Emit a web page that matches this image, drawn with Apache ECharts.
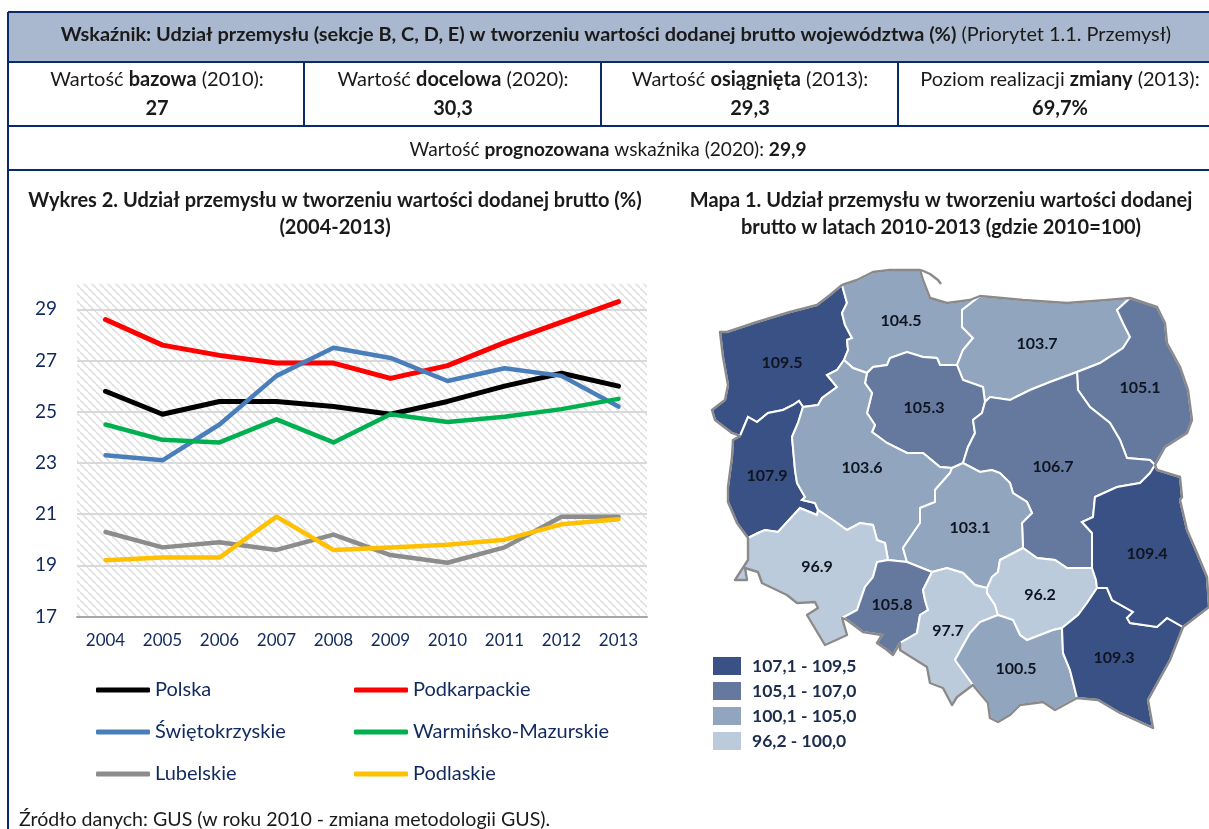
<!DOCTYPE html>
<html><head><meta charset="utf-8">
<style>html,body{margin:0;padding:0;background:#fff}#c{width:1209px;height:829px}</style>
<script src="https://cdn.jsdelivr.net/npm/echarts@6/dist/echarts.min.js"></script>
</head><body><div id="c"></div>
<script>
// ---------- line chart data ----------
const years = ['2004','2005','2006','2007','2008','2009','2010','2011','2012','2013'];
const polska = [25.8,24.9,25.4,25.4,25.2,24.9,25.4,26.0,26.5,26.0];
const podkarpackie = [28.6,27.6,27.2,26.9,26.9,26.3,26.8,27.7,28.5,29.3];
const swietokrzyskie = [23.3,23.1,24.5,26.4,27.5,27.1,26.2,26.7,26.4,25.2];
const warminsko = [24.5,23.9,23.8,24.7,23.8,24.9,24.6,24.8,25.1,25.5];
const lubelskie = [20.3,19.7,19.9,19.6,20.2,19.4,19.1,19.7,20.9,20.9];
const podlaskie = [19.2,19.3,19.3,20.9,19.6,19.7,19.8,20.0,20.6,20.8];

// ---------- map values ----------
const regionNames = ['zach','pom','warm','podl','kuj','maz','lub','wlkp','lodz','doln','opol','slask','swk','mal','podk','lubel'];
const regionValues = [109.5,104.5,103.7,105.1,105.3,106.7,107.9,103.6,103.1,96.9,105.8,97.7,96.2,100.5,109.3,109.4];
const legendLabels = ['107,1 - 109,5','105,1 - 107,0','100,1 - 105,0','96,2 - 100,0'];

// ---------- map geometry (schematic outline of the voivodeships) ----------
const coastZach=[[842,285],[830,295],[817,305],[790,312],[757,322],[727,332],[720,332],[723,357],[728,385],[725,400],[712,410],[715,420],[732,433],[740,436]];
const zachPom=[[842,285],[847,303],[842,313],[845,325],[852,338],[847,340],[848,350],[844,360]];
const zachWlkp=[[844,360],[837,370],[827,375],[837,387],[822,398],[818,405],[803,407]];
const zachLub=[[803,407],[799,401],[793,405],[783,410],[768,413],[757,422],[748,417],[740,436]];
const coastPom=[[842,285],[857,280],[873,272],[890,270],[920,270],[923,280],[930,298],[947,303],[970,300],[980,296]];
const pomWlkp=[[844,360],[853,368],[867,373]];
const pomKuj=[[867,373],[873,367],[887,365],[890,358],[907,352],[923,357],[937,358],[940,365],[957,365]];
const pomWarm=[[957,365],[963,350],[973,338],[962,327],[962,310],[980,296]];
const coastWarm=[[980,296],[1023,300],[1067,303],[1107,300],[1130,298]];
const warmKuj=[[957,365],[963,380],[983,387],[985,402]];
const warmMaz=[[985,402],[990,397],[1010,400],[1030,390],[1050,382],[1077,372]];
const warmPodl=[[1077,372],[1100,363],[1123,348],[1130,337],[1123,323],[1117,310],[1130,298]];
const outerPodl=[[1130,298],[1157,307],[1165,323],[1167,343],[1180,367],[1188,390],[1192,420],[1187,433],[1165,447],[1155,465]];
const podlMaz=[[1077,372],[1078,390],[1090,407],[1110,423],[1120,440],[1127,458],[1150,460],[1155,465]];
const kujWlkp=[[867,373],[865,383],[872,393],[867,413],[875,425],[872,432],[887,443],[907,453],[923,453],[940,467],[952,468]];
const kujLodz=[[952,468],[963,463]];
const kujMaz=[[963,463],[968,447],[975,433],[973,420],[982,413],[985,402]];
const mazLodz=[[963,463],[980,472],[992,470],[1000,473],[1010,483],[1013,493],[1027,502],[1032,513],[1022,523],[1023,548]];
const mazSwk=[[1023,548],[1037,558],[1055,560],[1067,568],[1092,568]];
const mazLub=[[1155,465],[1150,473],[1140,483],[1117,487],[1095,497],[1093,517],[1082,522],[1092,533],[1092,568]];
const wlkpLodz=[[952,468],[950,473],[935,490],[935,502],[920,508],[920,523],[903,548],[907,562]];
const wlkpLub=[[803,407],[798,423],[792,437],[795,470],[797,483],[805,497],[802,500],[815,503],[818,510]];
const wlkpDoln=[[818,510],[833,520],[847,530],[860,523],[873,525],[877,540],[885,543],[888,560]];
const wlkpOpol=[[888,560],[907,562]];
const outerLub=[[740,436],[733,440],[732,457],[728,487],[728,502],[737,523],[748,538]];
const lubDoln=[[818,510],[817,515],[800,508],[778,532],[765,530],[758,533],[748,538]];
const outerDoln=[[748,538],[748,560],[735,580],[747,580],[745,568],[758,572],[762,583],[787,595],[797,603],[815,602],[818,608],[807,615],[825,645],[847,635],[842,618]];
const dolnOpol=[[842,618],[857,610],[865,587],[873,577],[877,562],[888,560]];
const outerOpol=[[842,618],[847,620],[863,632],[882,635],[877,643],[887,650],[893,655],[900,643]];
const opolLodz=[[907,562],[932,572]];
const opolSlask=[[932,572],[923,590],[925,600],[928,610],[920,615],[917,633],[900,643]];
const lodzSlask=[[932,572],[947,568],[963,573],[975,585],[987,588]];
const lodzSwk=[[1023,548],[1000,560],[998,572],[992,577],[987,588]];
const slaskSwk=[[987,588],[987,593],[995,605],[998,615]];
const slaskMal=[[998,615],[980,622],[970,633],[955,660],[973,685]];
const outerSlask=[[900,643],[900,650],[927,667],[930,683],[943,688],[952,705],[957,697],[973,685]];
const malSwk=[[998,615],[1013,620],[1020,635],[1027,640],[1053,630],[1062,628]];
const malPodk=[[1062,628],[1063,653],[1070,670],[1077,698]];
const outerMal=[[973,685],[977,690],[988,703],[990,718],[998,722],[1010,715],[1020,705],[1043,702],[1055,710],[1077,698]];
const swkPodk=[[1062,628],[1078,615],[1087,603],[1097,588]];
const swkLub=[[1097,588],[1096,580],[1092,568]];
const lubPodk=[[1097,588],[1107,588],[1112,600],[1133,612],[1127,618],[1130,623],[1157,627],[1167,618],[1183,627]];
const outerLubel=[[1155,465],[1157,470],[1180,477],[1182,497],[1180,500],[1187,530],[1197,553],[1207,577],[1209,607],[1183,627]];
const outerPodk=[[1077,698],[1098,700],[1120,713],[1153,728],[1148,700],[1170,660],[1183,627]];
const helPeninsula=[[921,270],[930,274],[938,280],[941,284]];

const rev=a=>a.slice().reverse();
const rings={
 zach:[coastZach,rev(zachLub),rev(zachWlkp),rev(zachPom)],
 pom:[coastPom,rev(pomWarm),rev(pomKuj),rev(pomWlkp),rev(zachPom)],
 warm:[coastWarm,rev(warmPodl),rev(warmMaz),rev(warmKuj),pomWarm],
 podl:[outerPodl,rev(podlMaz),warmPodl],
 kuj:[pomKuj,warmKuj,rev(kujMaz),rev(kujLodz),rev(kujWlkp)],
 maz:[warmMaz,podlMaz,mazLub,rev(mazSwk),rev(mazLodz),kujMaz],
 lodz:[kujLodz,mazLodz,lodzSwk,rev(lodzSlask),rev(opolLodz),rev(wlkpLodz)],
 wlkp:[pomWlkp,kujWlkp,wlkpLodz,rev(wlkpOpol),rev(wlkpDoln),rev(wlkpLub),zachWlkp.slice().reverse()],
 lub:[zachLub,outerLub,rev(lubDoln),rev(wlkpLub)],
 doln:[lubDoln,outerDoln,dolnOpol,rev(wlkpDoln)],
 opol:[wlkpOpol,opolLodz,opolSlask,rev(outerOpol),dolnOpol],
 slask:[lodzSlask,slaskSwk,slaskMal,rev(outerSlask),rev(opolSlask)],
 swk:[mazSwk,rev(swkLub),rev(swkPodk),rev(malSwk),rev(slaskSwk),rev(lodzSwk)],
 mal:[malSwk,malPodk,rev(outerMal),rev(slaskMal)],
 podk:[swkPodk,lubPodk,rev(outerPodk),rev(malPodk)],
 lubel:[mazLub,rev(swkLub),lubPodk,rev(outerLubel)]
};
const labelAnchors={zach:[782,363],pom:[901,321],warm:[1037,344],podl:[1140,388],kuj:[924,408],maz:[1053,467],lub:[767,476],wlkp:[862,468],lodz:[970,528],doln:[817,567],opol:[892,605],slask:[948,631],swk:[1040,595],mal:[1016,669],podk:[1114,658],lubel:[1147,554]};
const outlineSegments=[coastPom,coastWarm,outerPodl,outerLubel,rev(outerPodk),rev(outerMal),rev(outerSlask),rev(outerOpol),rev(outerDoln),rev(outerLub),rev(coastZach)];

const flip=p=>[p[0],-p[1]];
const closeRing=segs=>{const r=[].concat(...segs).map(flip);r.push(r[0]);return r;};
const geoJson={type:'FeatureCollection',features:regionNames.map(n=>({type:'Feature',
  properties:{name:n,cp:flip(labelAnchors[n])},
  geometry:{type:'Polygon',coordinates:[closeRing(rings[n])]}}))};
echarts.registerMap('pl',geoJson);
const allPts=[].concat(...Object.values(rings).map(s=>[].concat(...s)));
const minX=Math.min(...allPts.map(p=>p[0])),maxX=Math.max(...allPts.map(p=>p[0]));
const minY=Math.min(...allPts.map(p=>p[1])),maxY=Math.max(...allPts.map(p=>p[1]));
const mapBox={left:minX,top:minY,width:maxX-minX,height:maxY-minY};

// ---------- hatch background ----------
const tile=document.createElement('canvas');tile.width=tile.height=8;
const t=tile.getContext('2d');t.fillStyle='#fff';t.fillRect(0,0,8,8);
t.strokeStyle='#e2e2e2';t.lineWidth=1.8;
[-8,0,8].forEach(o=>{t.beginPath();t.moveTo(o,0);t.lineTo(o+8,8);t.stroke();});

// ---------- styling ----------
const FONT='Lato';
const NAVY='#10295f';
const LINE='#0b2a6b';
const rich=(size,color)=>({r:{fontFamily:FONT,fontSize:size,fontWeight:'normal',fill:color,color},b:{fontFamily:FONT,fontSize:size,fontWeight:'bold',fill:color,color}});
const rt=(x,y,text,size)=>({type:'text',x,y,z:10,style:{text,rich:rich(size||20,'#1a1a1a'),align:'center',verticalAlign:'middle',fontFamily:FONT,fontSize:size||20,fill:'#1a1a1a'}});
const ln=(x1,y1,x2,y2)=>({type:'line',z:9,shape:{x1,y1,x2,y2},style:{stroke:LINE,lineWidth:2}});

const lineSeries=(name,data,color,width)=>({name,type:'line',data,symbol:'none',smooth:false,xAxisIndex:0,yAxisIndex:0,z:3,
  lineStyle:{color,width:width,cap:'round',join:'round'},itemStyle:{color},emphasis:{disabled:true},silent:true});
const legendBase={orient:'vertical',top:680,icon:'roundRect',itemWidth:54,itemHeight:5,itemGap:22,padding:0,selectedMode:false,
  textStyle:{color:NAVY,fontFamily:FONT,fontSize:20,lineHeight:20}};

const chart=echarts.init(document.getElementById('c'),null,{renderer:'canvas'});
chart.setOption({
 animation:false,
 backgroundColor:'#fff',
 title:[
  {text:'Wykres 2. Udział przemysłu w tworzeniu wartości dodanej brutto (%)\n(2004-2013)',left:330,top:182,textAlign:'center',
   textStyle:{fontFamily:FONT,fontSize:20,fontWeight:'bold',color:'#1a1a1a',lineHeight:27}},
  {text:'Mapa 1. Udział przemysłu w tworzeniu wartości dodanej\nbrutto w latach 2010-2013 (gdzie 2010=100)',left:936,top:182,textAlign:'center',
   textStyle:{fontFamily:FONT,fontSize:20,fontWeight:'bold',color:'#1a1a1a',lineHeight:27}}
 ],
 grid:{left:77,top:283.7,width:570,height:332.8,show:true,borderWidth:0,backgroundColor:{image:tile,repeat:'repeat'}},
 xAxis:[
  {type:'category',data:years,boundaryGap:true,
   axisLine:{lineStyle:{color:'#a6a6a6',width:2}},
   axisTick:{alignWithLabel:true,length:5,lineStyle:{color:'#a6a6a6',width:1}},
   axisLabel:{color:NAVY,fontFamily:FONT,fontSize:17,margin:16,interval:0},splitLine:{show:false}},
  {type:'category',data:years,boundaryGap:true,position:'bottom',
   axisLine:{show:false},axisLabel:{show:false},
   axisTick:{inside:true,alignWithLabel:true,length:5,lineStyle:{color:'#a6a6a6',width:1}},splitLine:{show:false}}
 ],
 yAxis:{type:'value',min:17,max:30,interval:2,
   axisLine:{show:false},axisTick:{show:false},
   axisLabel:{color:NAVY,fontFamily:FONT,fontSize:19,margin:20,showMaxLabel:false},
   splitLine:{show:true,showMinLine:false,showMaxLine:false,lineStyle:{color:'#d9d9d9',width:2}}},
 legend:[
  {...legendBase,data:['Polska','Świętokrzyskie','Lubelskie'],left:96},
  {...legendBase,data:['Podkarpackie','Warmińsko-Mazurskie','Podlaskie'],left:354}
 ],
 visualMap:{type:'piecewise',seriesIndex:6,orient:'vertical',left:713,top:657,itemWidth:28,itemHeight:18,itemGap:7,textGap:11,padding:0,
  selectedMode:false,itemSymbol:'rect',align:'left',inverse:false,
  pieces:[
   {gte:107.1,lte:109.5,label:legendLabels[0],color:'#3a5185'},
   {gte:105.1,lt:107.1,label:legendLabels[1],color:'#65799f'},
   {gte:100.1,lt:105.1,label:legendLabels[2],color:'#91a5bf'},
   {gte:96.2,lt:100.1,label:legendLabels[3],color:'#bccbdc'}
  ],
  textStyle:{color:'#1c2c4c',fontFamily:FONT,fontSize:17.5,fontWeight:'bold'}},
 geo:{map:'pl',...mapBox,aspectScale:1,roam:false,silent:true,z:1,
  itemStyle:{areaColor:'transparent',borderWidth:0},label:{show:false},emphasis:{disabled:true}},
 series:[
  lineSeries('Polska',polska,'#000000',5),
  lineSeries('Podkarpackie',podkarpackie,'#ff0000',5),
  lineSeries('Świętokrzyskie',swietokrzyskie,'#4a7ebb',4.5),
  lineSeries('Warmińsko-Mazurskie',warminsko,'#00b050',4.5),
  lineSeries('Lubelskie',lubelskie,'#8c8c8c',4.5),
  lineSeries('Podlaskie',podlaskie,'#ffc000',4.5),
  {name:'Mapa',type:'map',map:'pl',...mapBox,aspectScale:1,roam:false,silent:true,z:2,showLegendSymbol:false,
   data:regionNames.map((name,i)=>({name,value:regionValues[i]})),
   itemStyle:{borderColor:'#ffffff',borderWidth:2,areaColor:'#91a5bf'},
   label:{show:true,formatter:'{c}',color:'#0e1420',fontFamily:FONT,fontSize:16,fontWeight:'bold'},
   emphasis:{disabled:true}},
  {type:'lines',coordinateSystem:'geo',geoIndex:0,polyline:true,silent:true,z:4,
   data:[{coords:[].concat(...outlineSegments).map(flip)},{coords:helPeninsula.map(flip)}],
   lineStyle:{color:'#8a8a8a',width:2.4,opacity:1,curveness:0,join:'round'}}
 ],
 graphic:[
  {type:'rect',z:8,shape:{x:8,y:12,width:1201,height:50},style:{fill:'#a9b8ce'}},
  ln(8,12,1209,12),ln(8,62,1209,62),ln(8,126,1209,126),ln(8,170,1209,170),
  ln(8,12,8,829),ln(304,62,304,126),ln(601,62,601,126),ln(898,62,898,126),
  rt(616,35,'{b|Wskaźnik: Udział przemysłu (sekcje B, C, D, E) w tworzeniu wartości dodanej brutto województwa (%)} {r|(Priorytet 1.1. Przemysł)}',19.9),
  rt(157,80,'{r|Wartość }{b|bazowa}{r| (2010):}'),rt(157,109,'{b|27}'),
  rt(453,80,'{r|Wartość }{b|docelowa}{r| (2020):}'),rt(453,109,'{b|30,3}'),
  rt(750,80,'{r|Wartość }{b|osiągnięta}{r| (2013):}'),rt(750,109,'{b|29,3}'),
  rt(1060,80,'{r|Poziom realizacji }{b|zmiany}{r| (2013):}'),rt(1060,109,'{b|69,7%}'),
  rt(608,150,'{r|Wartość }{b|prognozowana}{r| wskaźnika (2020): }{b|29,9}',19.1),
  {type:'text',x:19,y:820,z:10,style:{text:'Źródło danych: GUS (w roku 2010 - zmiana metodologii GUS).',fontFamily:FONT,fontSize:19.6,fill:'#1a1a1a',verticalAlign:'middle'}}
 ]
});
</script></body></html>
